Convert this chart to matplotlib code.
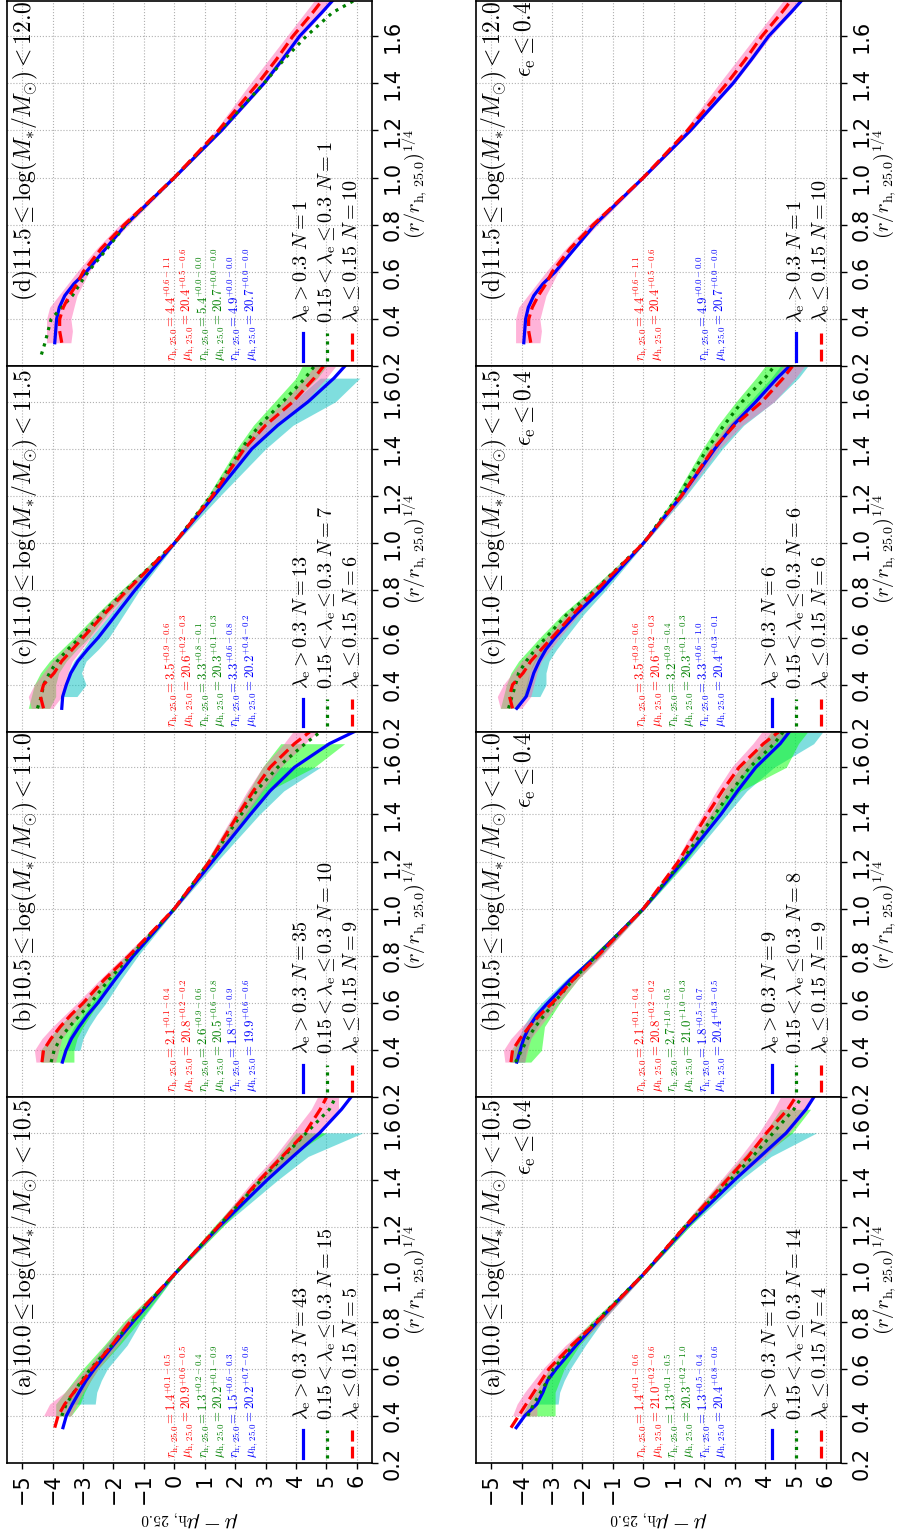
import numpy as np
import matplotlib.pyplot as plt

plt.rcParams['mathtext.fontset'] = 'cm'
plt.rcParams['font.family'] = 'DejaVu Sans'

n = np.nan
# (r/r_h,25.0)^(1/4) sampling of the profiles
r_grid = [0.25, 0.30, 0.35, 0.40, 0.45, 0.50, 0.55, 0.60, 0.70, 0.80, 1.00, 1.20, 1.40, 1.50, 1.60, 1.70, 1.75]

# mu - mu_h,25.0 profiles, median line and band edges, all galaxies (left column)
a_all_blue = [n, n, -3.66, -3.55, -3.35, -3.13, -2.9, -2.62, -2.0, -1.35, 0.0, 1.45, 3.05, 3.9, 4.78, 5.5, 5.8]
a_all_blue_lo = [n, n, n, n, -3.6, -3.4, -3.1, -2.85, -2.25, -1.5, -0.05, 1.35, 2.8, 3.6, 4.3, n, n]
a_all_blue_hi = [n, n, n, n, -2.6, -2.55, -2.4, -2.2, -1.55, -1.1, 0.05, 1.55, 3.4, 4.4, 6.2, n, n]
a_all_green = [n, n, n, -3.7, -3.55, -3.3, -3.05, -2.75, -2.05, -1.4, 0.0, 1.42, 2.85, 3.6, 4.34, 5.1, 5.3]
a_all_green_lo = [n, n, n, -3.9, -3.9, -3.6, -3.3, -3.0, -2.3, -1.65, -0.05, 1.28, 2.7, 3.4, 4.0, n, n]
a_all_green_hi = [n, n, n, -3.4, -3.1, -2.95, -2.75, -2.5, -1.8, -1.15, 0.05, 1.58, 3.05, 3.8, 5.0, n, n]
a_all_red = [n, n, -3.93, -3.82, -3.6, -3.3, -3.0, -2.7, -2.05, -1.45, 0.0, 1.42, 2.8, 3.55, 4.3, 4.8, 5.0]
a_all_red_lo = [n, n, n, -4.3, -4.1, -3.6, -3.25, -2.9, -2.25, -1.6, -0.05, 1.32, 2.6, 3.3, 3.9, 4.5, 4.7]
a_all_red_hi = [n, n, n, -3.4, -3.2, -3.0, -2.75, -2.5, -1.85, -1.3, 0.05, 1.52, 3.0, 3.9, 4.8, 5.4, 5.4]

b_all_blue = [n, n, -3.68, -3.56, -3.38, -3.13, -2.85, -2.52, -1.95, -1.35, 0.0, 1.25, 2.5, 3.15, 3.95, 5.1, 5.9]
b_all_blue_lo = [n, n, n, -3.6, -3.5, -3.3, -3.0, -2.7, -2.1, -1.5, -0.05, 1.15, 2.3, 2.85, 3.4, n, n]
b_all_blue_hi = [n, n, n, -3.1, -3.0, -2.8, -2.55, -2.25, -1.75, -1.2, 0.05, 1.4, 2.8, 3.6, 4.8, n, n]
b_all_green = [n, n, -4.05, -3.95, -3.75, -3.45, -3.1, -2.75, -2.15, -1.45, 0.0, 1.15, 2.2, 2.7, 3.4, 4.3, 4.8]
b_all_green_lo = [n, n, -4.4, -4.4, -4.1, -3.8, -3.4, -3.0, -2.35, -1.6, -0.05, 1.05, 2.0, 2.45, 2.9, 3.5, n]
b_all_green_hi = [n, n, -3.3, -3.3, -3.2, -3.0, -2.75, -2.5, -1.95, -1.3, 0.05, 1.27, 2.45, 3.1, 4.6, 5.6, n]

c_all_blue = [n, -3.7, -3.67, -3.55, -3.4, -3.17, -2.85, -2.5, -1.9, -1.3, 0.0, 1.3, 2.55, 3.4, 4.4, 5.25, 5.6]
c_all_blue_lo = [n, n, -3.7, -3.6, -3.5, -3.3, -3.0, -2.75, -2.1, -1.45, -0.05, 1.2, 2.25, 3.0, 3.9, 4.8, n]
c_all_blue_hi = [n, n, -3.2, -2.9, -3.05, -2.9, -2.5, -2.15, -1.65, -1.15, 0.05, 1.5, 3.0, 3.9, 5.3, 6.1, n]
c_all_green = [n, -4.5, -4.37, -4.3, -4.1, -3.85, -3.5, -3.1, -2.4, -1.6, 0.0, 1.2, 2.2, 2.8, 3.57, 4.3, 4.6]
c_all_green_lo = [n, -4.8, -4.7, -4.6, -4.4, -4.1, -3.7, -3.3, -2.55, -1.75, -0.05, 1.1, 2.05, 2.6, 3.3, 4.0, 4.2]
c_all_green_hi = [n, -4.1, -3.9, -3.9, -3.8, -3.55, -3.2, -2.8, -2.2, -1.45, 0.05, 1.3, 2.35, 3.0, 3.9, 4.7, 5.0]

green_d = [-4.37, -4.25, -4.15, -4.05, -3.7, -3.35, -3.1, -2.84, -2.2, -1.6, 0.0, 1.5, 2.95, 3.6, 4.34, 5.2, 5.9]

# groups that are identical in both columns (same galaxies)
red_b = [n, n, -4.35, -4.3, -4.05, -3.75, -3.4, -3.0, -2.3, -1.5, 0.0, 1.15, 2.1, 2.6, 3.15, 3.95, 4.45]
red_b_lo = [n, n, -4.55, -4.6, -4.35, -4.0, -3.6, -3.2, -2.45, -1.65, -0.05, 1.05, 1.95, 2.4, 2.9, 3.6, 3.9]
red_b_hi = [n, n, -3.9, -3.8, -3.7, -3.4, -3.1, -2.8, -2.15, -1.35, 0.05, 1.3, 2.35, 2.9, 3.5, 4.3, 4.7]
red_c = [n, -4.3, -4.4, -4.3, -3.95, -3.7, -3.35, -3.0, -2.3, -1.55, 0.0, 1.25, 2.3, 3.0, 3.9, 4.6, 4.9]
red_c_lo = [n, -4.7, -4.8, -4.6, -4.3, -4.0, -3.6, -3.2, -2.5, -1.7, -0.05, 1.15, 2.15, 2.75, 3.6, 4.3, 4.6]
red_c_hi = [n, -4.0, -3.7, -3.6, -3.5, -3.35, -3.05, -2.75, -2.1, -1.4, 0.05, 1.35, 2.5, 3.25, 4.3, 5.0, 5.3]
blue_d = [n, -3.93, -3.9, -3.87, -3.78, -3.6, -3.3, -2.9, -2.25, -1.6, 0.0, 1.55, 2.95, 3.55, 4.12, 4.85, 5.2]
red_d = [n, -3.7, -3.77, -3.77, -3.65, -3.45, -3.2, -3.0, -2.4, -1.65, 0.0, 1.45, 2.75, 3.35, 3.9, 4.55, 4.85]
red_d_lo = [n, -4.2, -4.2, -4.2, -4.1, -3.8, -3.5, -3.2, -2.55, -1.8, -0.05, 1.35, 2.5, 3.1, 3.7, 4.3, 4.6]
red_d_hi = [n, -3.4, -3.35, -3.4, -3.3, -3.2, -3.0, -2.8, -2.25, -1.5, 0.05, 1.6, 3.0, 3.6, 4.2, 4.9, 5.2]

# eps_e <= 0.4 (right column)
a_eps_blue = [n, n, -4.18, -3.9, -3.5, -3.3, -3.15, -2.86, -2.2, -1.5, 0.0, 1.4, 3.0, 3.85, 4.7, 5.35, 5.6]
a_eps_blue_lo = [n, n, n, n, -3.5, -3.35, -3.15, -2.9, -2.3, -1.6, -0.05, 1.3, 2.8, 3.6, 4.3, n, n]
a_eps_blue_hi = [n, n, n, n, -2.8, -2.75, -2.6, -2.4, -1.9, -1.35, 0.05, 1.5, 3.2, 4.2, 5.7, n, n]
a_eps_green = [n, n, n, -3.8, -3.6, -3.38, -3.15, -2.95, -2.3, -1.55, 0.0, 1.35, 2.85, 3.6, 4.27, 4.95, 5.2]
a_eps_green_lo = [n, n, n, -4.0, -3.8, -3.55, -3.3, -3.1, -2.45, -1.7, -0.05, 1.25, 2.6, 3.3, 4.0, 4.5, n]
a_eps_green_hi = [n, n, n, -2.9, -2.9, -2.9, -2.75, -2.6, -2.1, -1.4, 0.05, 1.5, 3.0, 3.9, 4.9, 5.5, n]
a_eps_red = [n, n, -4.35, -4.1, -3.85, -3.6, -3.35, -3.1, -2.35, -1.5, 0.0, 1.35, 2.75, 3.45, 4.05, 4.75, 5.0]
a_eps_red_lo = [n, n, n, -4.3, -4.15, -3.9, -3.6, -3.3, -2.55, -1.65, -0.05, 1.25, 2.55, 3.2, 3.8, 4.3, 4.5]
a_eps_red_hi = [n, n, n, -3.5, -3.5, -3.3, -3.1, -2.85, -2.15, -1.35, 0.05, 1.45, 3.0, 4.0, 4.8, 5.4, 5.6]

b_eps_blue = [n, n, -4.16, -4.05, -3.93, -3.75, -3.5, -3.15, -2.4, -1.55, 0.0, 1.3, 2.55, 3.1, 3.7, 4.5, 4.8]
b_eps_blue_lo = [n, n, -4.3, -4.25, -4.1, -3.95, -3.7, -3.35, -2.55, -1.65, -0.05, 1.2, 2.35, 2.85, 3.4, 4.0, 4.3]
b_eps_blue_hi = [n, n, -3.9, -3.85, -3.7, -3.5, -3.25, -2.95, -2.25, -1.4, 0.05, 1.45, 2.75, 3.4, 4.3, 5.6, 5.9]
b_eps_green = [n, n, -4.2, -4.0, -3.8, -3.55, -3.25, -2.95, -2.3, -1.55, 0.0, 1.25, 2.35, 2.9, 3.5, 4.3, 4.6]
b_eps_green_lo = [n, n, -4.4, -4.35, -4.1, -3.8, -3.45, -3.15, -2.45, -1.7, -0.05, 1.15, 2.2, 2.65, 3.2, 3.9, 4.2]
b_eps_green_hi = [n, n, -3.7, -3.35, -3.3, -3.25, -3.0, -2.75, -2.15, -1.4, 0.05, 1.4, 2.55, 3.2, 4.7, 5.1, 5.4]

c_eps_blue = [n, -4.16, -3.85, -3.72, -3.6, -3.42, -3.2, -2.9, -2.2, -1.4, 0.0, 1.25, 2.35, 2.95, 3.7, 4.4, 4.8]
c_eps_blue_lo = [n, n, -3.95, -3.85, -3.75, -3.6, -3.4, -3.05, -2.4, -1.55, -0.05, 1.15, 2.25, 2.8, 3.5, 4.2, 4.5]
c_eps_blue_hi = [n, n, -3.4, -3.2, -3.2, -3.1, -2.85, -2.55, -1.95, -1.25, 0.05, 1.4, 2.6, 3.3, 4.3, 5.1, 5.4]
c_eps_green = [n, -4.43, -4.32, -4.2, -4.1, -3.85, -3.55, -3.2, -2.5, -1.6, 0.0, 1.15, 2.1, 2.65, 3.25, 4.0, 4.3]
c_eps_green_lo = [n, -4.7, -4.6, -4.5, -4.35, -4.1, -3.75, -3.4, -2.65, -1.75, -0.05, 1.05, 1.95, 2.45, 3.05, 3.7, 4.0]
c_eps_green_hi = [n, -4.1, -3.9, -3.8, -3.75, -3.55, -3.25, -2.95, -2.3, -1.45, 0.05, 1.25, 2.25, 2.85, 3.6, 4.4, 4.7]

# number of galaxies per group (blue, green, red), panels a..d
n_all = [[43, 15, 5], [35, 10, 9], [13, 7, 6], [1, 1, 10]]
n_eps = [[12, 14, 4], [9, 8, 9], [6, 6, 6], [1, 0, 10]]

# median r_h,25.0 and mu_h,25.0 with (+err, -err), panels a..d
rh_all_red = [(1.4, 0.1, 0.5), (2.1, 0.1, 0.4), (3.5, 0.9, 0.6), (4.4, 0.6, 1.1)]
mu_all_red = [(20.9, 0.6, 0.5), (20.8, 0.2, 0.2), (20.6, 0.2, 0.3), (20.4, 0.5, 0.6)]
rh_all_green = [(1.3, 0.2, 0.4), (2.6, 0.9, 0.6), (3.3, 0.8, 0.1), (5.4, 0.0, 0.0)]
mu_all_green = [(20.2, 0.1, 0.9), (20.5, 0.6, 0.8), (20.3, 0.1, 0.3), (20.7, 0.0, 0.0)]
rh_all_blue = [(1.5, 0.6, 0.3), (1.8, 0.5, 0.9), (3.3, 0.6, 0.8), (4.9, 0.0, 0.0)]
mu_all_blue = [(20.2, 0.7, 0.6), (19.9, 0.6, 0.6), (20.2, 0.4, 0.2), (20.7, 0.0, 0.0)]

rh_eps_red = [(1.4, 0.1, 0.6), (2.1, 0.1, 0.4), (3.5, 0.9, 0.6), (4.4, 0.6, 1.1)]
mu_eps_red = [(21.0, 0.2, 0.6), (20.8, 0.2, 0.2), (20.6, 0.2, 0.3), (20.4, 0.5, 0.6)]
rh_eps_green = [(1.3, 0.1, 0.5), (2.7, 1.0, 0.5), (3.2, 0.9, 0.4), None]
mu_eps_green = [(20.3, 0.2, 1.0), (21.0, 1.0, 0.3), (20.3, 0.1, 0.3), None]
rh_eps_blue = [(1.3, 0.5, 0.4), (1.8, 0.5, 0.7), (3.3, 0.6, 1.0), (4.9, 0.0, 0.0)]
mu_eps_blue = [(20.4, 0.8, 0.6), (20.4, 0.3, 0.5), (20.4, 0.3, 0.1), (20.7, 0.0, 0.0)]

mass_edges = ['10.0', '10.5', '11.0', '11.5', '12.0']
panel_tags = ['a', 'b', 'c', 'd']
mu_ticks = list(range(-5, 7))
r_ticks = [0.2, 0.4, 0.6, 0.8, 1.0, 1.2, 1.4, 1.6]

curves_all = [
    [(a_all_blue, a_all_blue_lo, a_all_blue_hi), (a_all_green, a_all_green_lo, a_all_green_hi),
     (a_all_red, a_all_red_lo, a_all_red_hi)],
    [(b_all_blue, b_all_blue_lo, b_all_blue_hi), (b_all_green, b_all_green_lo, b_all_green_hi),
     (red_b, red_b_lo, red_b_hi)],
    [(c_all_blue, c_all_blue_lo, c_all_blue_hi), (c_all_green, c_all_green_lo, c_all_green_hi),
     (red_c, red_c_lo, red_c_hi)],
    [(blue_d, None, None), (green_d, None, None), (red_d, red_d_lo, red_d_hi)],
]
curves_eps = [
    [(a_eps_blue, a_eps_blue_lo, a_eps_blue_hi), (a_eps_green, a_eps_green_lo, a_eps_green_hi),
     (a_eps_red, a_eps_red_lo, a_eps_red_hi)],
    [(b_eps_blue, b_eps_blue_lo, b_eps_blue_hi), (b_eps_green, b_eps_green_lo, b_eps_green_hi),
     (red_b, red_b_lo, red_b_hi)],
    [(c_eps_blue, c_eps_blue_lo, c_eps_blue_hi), (c_eps_green, c_eps_green_lo, c_eps_green_hi),
     (red_c, red_c_lo, red_c_hi)],
    [(blue_d, None, None), None, (red_d, red_d_lo, red_d_hi)],
]
notes_all = [rh_all_red, mu_all_red, rh_all_green, mu_all_green, rh_all_blue, mu_all_blue]
notes_eps = [rh_eps_red, mu_eps_red, rh_eps_green, mu_eps_green, rh_eps_blue, mu_eps_blue]

line_col = ['b', 'g', 'r']
line_ls = ['-', ':', '--']
band_col = ['#00bfbf', '#00ff00', '#ff69b4']
note_col = ['r', 'r', 'g', 'g', 'b', 'b']
note_fmt = [r'$r_{\rm h,\,25.0}=%.1f^{+%.1f-%.1f}$', r'$\mu_{\rm h,\,25.0}=%.1f^{+%.1f-%.1f}$'] * 3
leg_fmt = [r'$\lambda_{\rm e}>0.3\ N=%d$', r'$0.15<\lambda_{\rm e}\leq0.3\ N=%d$',
           r'$\lambda_{\rm e}\leq0.15\ N=%d$']
leg_x = [0.81, 0.877, 0.945]

fig = plt.figure(figsize=(8.99, 15.36), dpi=100)
col_left = [0.0078, 0.5295]
row_bottom = [0.0475, 0.2855, 0.5235, 0.7615]

for c, (curves, ns, notes) in enumerate([(curves_all, n_all, notes_all), (curves_eps, n_eps, notes_eps)]):
    for i in [3, 2, 1, 0]:
        ax = fig.add_axes([col_left[c], row_bottom[i], 0.406, 0.238])
        ax.set_axisbelow(True)
        ax.grid(True, color='#b0b0b0', ls=':', lw=0.8)
        for s in ax.spines.values():
            s.set_linewidth(1.2)

        for g in range(3):
            cv = curves[i][g]
            if cv is not None and cv[1] is not None:
                ax.fill_betweenx(r_grid, cv[1], cv[2], color=band_col[g], alpha=0.5, lw=0)
        for g in range(3):
            cv = curves[i][g]
            if cv is not None:
                ax.plot(cv[0], r_grid, color=line_col[g], ls=line_ls[g], lw=2.3)

        # legend drawn by hand, rotated with the figure
        groups = [g for g in range(3) if ns[i][g] > 0]
        for k, g in enumerate(groups):
            xc = leg_x[3 - len(groups) + k]
            ax.plot([xc, xc], [0.015, 0.09], transform=ax.transAxes, color=line_col[g],
                    ls=line_ls[g], lw=2.3)
            ax.text(xc, 0.118, leg_fmt[g] % ns[i][g], transform=ax.transAxes, rotation=90,
                    ha='center', va='bottom', fontsize=14.5)

        for j in range(6):
            vals = notes[j][i]
            if vals is None:
                continue
            ax.text(0.452 + 0.043 * j, 0.014, note_fmt[j] % vals, transform=ax.transAxes,
                    rotation=90, ha='center', va='bottom', color=note_col[j], fontsize=9.2)

        title = r'$\mathrm{(%s)}%s\leq\log(M_{*}/M_{\odot})<%s$' % (panel_tags[i], mass_edges[i], mass_edges[i + 1])
        if c == 1:
            title += '\n' + r'$\epsilon_{\rm e}\leq0.4$'
        ax.text(0.012, 0.18, title, transform=ax.transAxes, rotation=90, ha='left', va='bottom',
                multialignment='right', fontsize=17)

        ax.set_xlim(-5.5, 6.5)
        ax.set_ylim(0.2, 1.75)
        ax.tick_params(axis='both', direction='out', length=4, width=1, top=False, left=False,
                       bottom=True, right=True, labelleft=False, labelright=True,
                       labelbottom=(i == 0), labelsize=15)
        ax.set_yticks(r_ticks, ['%.1f' % t for t in r_ticks], rotation=90, va='center')
        if i == 0:
            ax.set_xticks(mu_ticks, [str(t).replace('-', '\u2212') for t in mu_ticks],
                          rotation=90, ha='center', va='top')
            ax.set_xlabel(r'$\mu-\mu_{\rm h,\,25.0}$', fontsize=16, rotation=180, labelpad=3)
        else:
            ax.set_xticks(mu_ticks)
        ax.yaxis.set_label_position('right')
        ax.set_ylabel(r'$(r/r_{\rm h,\,25.0})^{1/4}$', fontsize=14.5, labelpad=-1.5)

fig.savefig('out.png', dpi=100)
